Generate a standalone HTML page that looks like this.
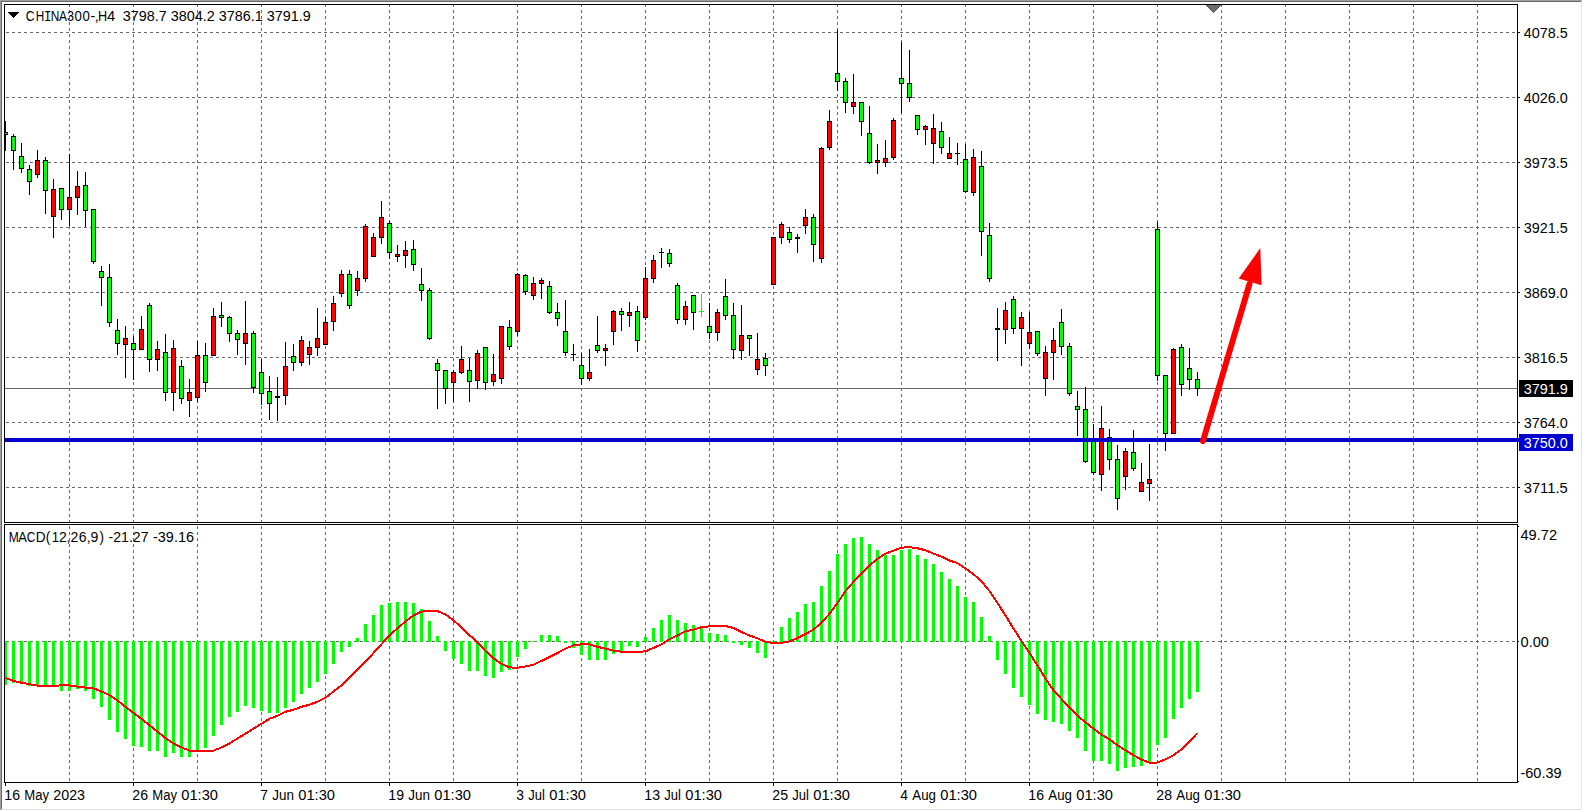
<!DOCTYPE html>
<html><head><meta charset="utf-8"><title>CHINA300-,H4</title>
<style>html,body{margin:0;padding:0;background:#fff;overflow:hidden}svg{display:block}text{font-family:"Liberation Sans",sans-serif;font-size:14px;fill:#000}</style>
</head><body>
<svg width="1583" height="811" viewBox="0 0 1583 811">
<rect x="0" y="0" width="1583" height="811" fill="#ffffff"/>
<g shape-rendering="crispEdges">
<rect x="0" y="0" width="1582" height="1" fill="#a0a0a0"/>
<rect x="0" y="0" width="1" height="810" fill="#a0a0a0"/>
<rect x="1" y="1" width="1580" height="1" fill="#696969"/>
<rect x="1" y="1" width="1" height="808" fill="#696969"/>
<rect x="1581" y="1" width="1" height="809" fill="#e3e3e3"/>
<rect x="1" y="809" width="1581" height="1" fill="#e3e3e3"/>
<clipPath id="cm"><rect x="5" y="5" width="1512" height="517"/></clipPath>
<clipPath id="cs"><rect x="5" y="525" width="1512" height="257"/></clipPath>
<line x1="6" y1="32.5" x2="1517" y2="32.5" stroke="#696969" stroke-width="1" stroke-dasharray="3 3"/>
<line x1="6" y1="97.5" x2="1517" y2="97.5" stroke="#696969" stroke-width="1" stroke-dasharray="3 3"/>
<line x1="6" y1="162.5" x2="1517" y2="162.5" stroke="#696969" stroke-width="1" stroke-dasharray="3 3"/>
<line x1="6" y1="227.5" x2="1517" y2="227.5" stroke="#696969" stroke-width="1" stroke-dasharray="3 3"/>
<line x1="6" y1="292.5" x2="1517" y2="292.5" stroke="#696969" stroke-width="1" stroke-dasharray="3 3"/>
<line x1="6" y1="357.5" x2="1517" y2="357.5" stroke="#696969" stroke-width="1" stroke-dasharray="3 3"/>
<line x1="6" y1="422.5" x2="1517" y2="422.5" stroke="#696969" stroke-width="1" stroke-dasharray="3 3"/>
<line x1="6" y1="487.5" x2="1517" y2="487.5" stroke="#696969" stroke-width="1" stroke-dasharray="3 3"/>
<line x1="6" y1="641.5" x2="1517" y2="641.5" stroke="#696969" stroke-width="1" stroke-dasharray="3 3"/>
<line x1="69.5" y1="4" x2="69.5" y2="522" stroke="#696969" stroke-width="1" stroke-dasharray="3 3"/>
<line x1="69.5" y1="520" x2="69.5" y2="782" stroke="#696969" stroke-width="1" stroke-dasharray="3 3"/>
<line x1="133.5" y1="4" x2="133.5" y2="522" stroke="#696969" stroke-width="1" stroke-dasharray="3 3"/>
<line x1="133.5" y1="520" x2="133.5" y2="782" stroke="#696969" stroke-width="1" stroke-dasharray="3 3"/>
<line x1="197.5" y1="4" x2="197.5" y2="522" stroke="#696969" stroke-width="1" stroke-dasharray="3 3"/>
<line x1="197.5" y1="520" x2="197.5" y2="782" stroke="#696969" stroke-width="1" stroke-dasharray="3 3"/>
<line x1="261.5" y1="4" x2="261.5" y2="522" stroke="#696969" stroke-width="1" stroke-dasharray="3 3"/>
<line x1="261.5" y1="520" x2="261.5" y2="782" stroke="#696969" stroke-width="1" stroke-dasharray="3 3"/>
<line x1="325.5" y1="4" x2="325.5" y2="522" stroke="#696969" stroke-width="1" stroke-dasharray="3 3"/>
<line x1="325.5" y1="520" x2="325.5" y2="782" stroke="#696969" stroke-width="1" stroke-dasharray="3 3"/>
<line x1="389.5" y1="4" x2="389.5" y2="522" stroke="#696969" stroke-width="1" stroke-dasharray="3 3"/>
<line x1="389.5" y1="520" x2="389.5" y2="782" stroke="#696969" stroke-width="1" stroke-dasharray="3 3"/>
<line x1="453.5" y1="4" x2="453.5" y2="522" stroke="#696969" stroke-width="1" stroke-dasharray="3 3"/>
<line x1="453.5" y1="520" x2="453.5" y2="782" stroke="#696969" stroke-width="1" stroke-dasharray="3 3"/>
<line x1="517.5" y1="4" x2="517.5" y2="522" stroke="#696969" stroke-width="1" stroke-dasharray="3 3"/>
<line x1="517.5" y1="520" x2="517.5" y2="782" stroke="#696969" stroke-width="1" stroke-dasharray="3 3"/>
<line x1="581.5" y1="4" x2="581.5" y2="522" stroke="#696969" stroke-width="1" stroke-dasharray="3 3"/>
<line x1="581.5" y1="520" x2="581.5" y2="782" stroke="#696969" stroke-width="1" stroke-dasharray="3 3"/>
<line x1="645.5" y1="4" x2="645.5" y2="522" stroke="#696969" stroke-width="1" stroke-dasharray="3 3"/>
<line x1="645.5" y1="520" x2="645.5" y2="782" stroke="#696969" stroke-width="1" stroke-dasharray="3 3"/>
<line x1="709.5" y1="4" x2="709.5" y2="522" stroke="#696969" stroke-width="1" stroke-dasharray="3 3"/>
<line x1="709.5" y1="520" x2="709.5" y2="782" stroke="#696969" stroke-width="1" stroke-dasharray="3 3"/>
<line x1="773.5" y1="4" x2="773.5" y2="522" stroke="#696969" stroke-width="1" stroke-dasharray="3 3"/>
<line x1="773.5" y1="520" x2="773.5" y2="782" stroke="#696969" stroke-width="1" stroke-dasharray="3 3"/>
<line x1="837.5" y1="4" x2="837.5" y2="522" stroke="#696969" stroke-width="1" stroke-dasharray="3 3"/>
<line x1="837.5" y1="520" x2="837.5" y2="782" stroke="#696969" stroke-width="1" stroke-dasharray="3 3"/>
<line x1="901.5" y1="4" x2="901.5" y2="522" stroke="#696969" stroke-width="1" stroke-dasharray="3 3"/>
<line x1="901.5" y1="520" x2="901.5" y2="782" stroke="#696969" stroke-width="1" stroke-dasharray="3 3"/>
<line x1="965.5" y1="4" x2="965.5" y2="522" stroke="#696969" stroke-width="1" stroke-dasharray="3 3"/>
<line x1="965.5" y1="520" x2="965.5" y2="782" stroke="#696969" stroke-width="1" stroke-dasharray="3 3"/>
<line x1="1029.5" y1="4" x2="1029.5" y2="522" stroke="#696969" stroke-width="1" stroke-dasharray="3 3"/>
<line x1="1029.5" y1="520" x2="1029.5" y2="782" stroke="#696969" stroke-width="1" stroke-dasharray="3 3"/>
<line x1="1093.5" y1="4" x2="1093.5" y2="522" stroke="#696969" stroke-width="1" stroke-dasharray="3 3"/>
<line x1="1093.5" y1="520" x2="1093.5" y2="782" stroke="#696969" stroke-width="1" stroke-dasharray="3 3"/>
<line x1="1157.5" y1="4" x2="1157.5" y2="522" stroke="#696969" stroke-width="1" stroke-dasharray="3 3"/>
<line x1="1157.5" y1="520" x2="1157.5" y2="782" stroke="#696969" stroke-width="1" stroke-dasharray="3 3"/>
<line x1="1221.5" y1="4" x2="1221.5" y2="522" stroke="#696969" stroke-width="1" stroke-dasharray="3 3"/>
<line x1="1221.5" y1="520" x2="1221.5" y2="782" stroke="#696969" stroke-width="1" stroke-dasharray="3 3"/>
<line x1="1285.5" y1="4" x2="1285.5" y2="522" stroke="#696969" stroke-width="1" stroke-dasharray="3 3"/>
<line x1="1285.5" y1="520" x2="1285.5" y2="782" stroke="#696969" stroke-width="1" stroke-dasharray="3 3"/>
<line x1="1349.5" y1="4" x2="1349.5" y2="522" stroke="#696969" stroke-width="1" stroke-dasharray="3 3"/>
<line x1="1349.5" y1="520" x2="1349.5" y2="782" stroke="#696969" stroke-width="1" stroke-dasharray="3 3"/>
<line x1="1413.5" y1="4" x2="1413.5" y2="522" stroke="#696969" stroke-width="1" stroke-dasharray="3 3"/>
<line x1="1413.5" y1="520" x2="1413.5" y2="782" stroke="#696969" stroke-width="1" stroke-dasharray="3 3"/>
<line x1="1477.5" y1="4" x2="1477.5" y2="522" stroke="#696969" stroke-width="1" stroke-dasharray="3 3"/>
<line x1="1477.5" y1="520" x2="1477.5" y2="782" stroke="#696969" stroke-width="1" stroke-dasharray="3 3"/>
<rect x="5" y="388" width="1512" height="1" fill="#696969"/>
<g clip-path="url(#cm)">
<rect x="5" y="121" width="1" height="30" fill="#000"/>
<rect x="3" y="132" width="5" height="3" fill="#000"/>
<rect x="4" y="133" width="3" height="1" fill="#00ff00"/>
<rect x="13" y="134" width="1" height="36" fill="#000"/>
<rect x="11" y="136" width="5" height="15" fill="#000"/>
<rect x="12" y="137" width="3" height="13" fill="#00ff00"/>
<rect x="21" y="143" width="1" height="30" fill="#000"/>
<rect x="19" y="156" width="5" height="13" fill="#000"/>
<rect x="20" y="157" width="3" height="11" fill="#00ff00"/>
<rect x="29" y="165" width="1" height="30" fill="#000"/>
<rect x="27" y="169" width="5" height="13" fill="#000"/>
<rect x="28" y="170" width="3" height="11" fill="#00ff00"/>
<rect x="37" y="150" width="1" height="28" fill="#000"/>
<rect x="35" y="160" width="5" height="15" fill="#000"/>
<rect x="36" y="161" width="3" height="13" fill="#ff0000"/>
<rect x="45" y="157" width="1" height="57" fill="#000"/>
<rect x="43" y="160" width="5" height="31" fill="#000"/>
<rect x="44" y="161" width="3" height="29" fill="#00ff00"/>
<rect x="53" y="179" width="1" height="59" fill="#000"/>
<rect x="51" y="189" width="5" height="28" fill="#000"/>
<rect x="52" y="190" width="3" height="26" fill="#ff0000"/>
<rect x="61" y="188" width="1" height="32" fill="#000"/>
<rect x="59" y="188" width="5" height="22" fill="#000"/>
<rect x="60" y="189" width="3" height="20" fill="#00ff00"/>
<rect x="69" y="154" width="1" height="72" fill="#000"/>
<rect x="67" y="197" width="5" height="13" fill="#000"/>
<rect x="68" y="198" width="3" height="11" fill="#ff0000"/>
<rect x="77" y="171" width="1" height="44" fill="#000"/>
<rect x="75" y="186" width="5" height="12" fill="#000"/>
<rect x="76" y="187" width="3" height="10" fill="#ff0000"/>
<rect x="85" y="172" width="1" height="55" fill="#000"/>
<rect x="83" y="185" width="5" height="26" fill="#000"/>
<rect x="84" y="186" width="3" height="24" fill="#00ff00"/>
<rect x="93" y="209" width="1" height="55" fill="#000"/>
<rect x="91" y="209" width="5" height="53" fill="#000"/>
<rect x="92" y="210" width="3" height="51" fill="#00ff00"/>
<rect x="101" y="266" width="1" height="40" fill="#000"/>
<rect x="99" y="271" width="5" height="7" fill="#000"/>
<rect x="100" y="272" width="3" height="5" fill="#00ff00"/>
<rect x="109" y="264" width="1" height="63" fill="#000"/>
<rect x="107" y="277" width="5" height="46" fill="#000"/>
<rect x="108" y="278" width="3" height="44" fill="#00ff00"/>
<rect x="117" y="319" width="1" height="36" fill="#000"/>
<rect x="115" y="330" width="5" height="14" fill="#000"/>
<rect x="116" y="331" width="3" height="12" fill="#00ff00"/>
<rect x="125" y="326" width="1" height="52" fill="#000"/>
<rect x="123" y="338" width="5" height="7" fill="#000"/>
<rect x="124" y="339" width="3" height="5" fill="#ff0000"/>
<rect x="133" y="336" width="1" height="44" fill="#000"/>
<rect x="131" y="343" width="5" height="7" fill="#000"/>
<rect x="132" y="344" width="3" height="5" fill="#00ff00"/>
<rect x="141" y="316" width="1" height="34" fill="#000"/>
<rect x="139" y="329" width="5" height="21" fill="#000"/>
<rect x="140" y="330" width="3" height="19" fill="#ff0000"/>
<rect x="149" y="303" width="1" height="69" fill="#000"/>
<rect x="147" y="305" width="5" height="55" fill="#000"/>
<rect x="148" y="306" width="3" height="53" fill="#00ff00"/>
<rect x="157" y="341" width="1" height="30" fill="#000"/>
<rect x="155" y="349" width="5" height="11" fill="#000"/>
<rect x="156" y="350" width="3" height="9" fill="#ff0000"/>
<rect x="165" y="334" width="1" height="67" fill="#000"/>
<rect x="163" y="352" width="5" height="41" fill="#000"/>
<rect x="164" y="353" width="3" height="39" fill="#00ff00"/>
<rect x="173" y="340" width="1" height="71" fill="#000"/>
<rect x="171" y="348" width="5" height="45" fill="#000"/>
<rect x="172" y="349" width="3" height="43" fill="#ff0000"/>
<rect x="181" y="360" width="1" height="44" fill="#000"/>
<rect x="179" y="366" width="5" height="33" fill="#000"/>
<rect x="180" y="367" width="3" height="31" fill="#00ff00"/>
<rect x="189" y="379" width="1" height="38" fill="#000"/>
<rect x="187" y="392" width="5" height="9" fill="#000"/>
<rect x="188" y="393" width="3" height="7" fill="#ff0000"/>
<rect x="197" y="341" width="1" height="61" fill="#000"/>
<rect x="195" y="355" width="5" height="43" fill="#000"/>
<rect x="196" y="356" width="3" height="41" fill="#ff0000"/>
<rect x="205" y="343" width="1" height="49" fill="#000"/>
<rect x="203" y="355" width="5" height="28" fill="#000"/>
<rect x="204" y="356" width="3" height="26" fill="#00ff00"/>
<rect x="213" y="308" width="1" height="48" fill="#000"/>
<rect x="211" y="316" width="5" height="40" fill="#000"/>
<rect x="212" y="317" width="3" height="38" fill="#ff0000"/>
<rect x="221" y="302" width="1" height="25" fill="#000"/>
<rect x="219" y="315" width="5" height="3" fill="#000"/>
<rect x="220" y="316" width="3" height="1" fill="#00ff00"/>
<rect x="229" y="316" width="1" height="26" fill="#000"/>
<rect x="227" y="317" width="5" height="17" fill="#000"/>
<rect x="228" y="318" width="3" height="15" fill="#00ff00"/>
<rect x="237" y="330" width="1" height="25" fill="#000"/>
<rect x="235" y="333" width="5" height="7" fill="#000"/>
<rect x="236" y="334" width="3" height="5" fill="#00ff00"/>
<rect x="245" y="301" width="1" height="64" fill="#000"/>
<rect x="243" y="333" width="5" height="11" fill="#000"/>
<rect x="244" y="334" width="3" height="9" fill="#ff0000"/>
<rect x="253" y="331" width="1" height="62" fill="#000"/>
<rect x="251" y="333" width="5" height="55" fill="#000"/>
<rect x="252" y="334" width="3" height="53" fill="#00ff00"/>
<rect x="261" y="359" width="1" height="46" fill="#000"/>
<rect x="259" y="372" width="5" height="22" fill="#000"/>
<rect x="260" y="373" width="3" height="20" fill="#00ff00"/>
<rect x="269" y="376" width="1" height="44" fill="#000"/>
<rect x="267" y="391" width="5" height="13" fill="#000"/>
<rect x="268" y="392" width="3" height="11" fill="#00ff00"/>
<rect x="277" y="377" width="1" height="44" fill="#000"/>
<rect x="275" y="396" width="5" height="2" fill="#000"/>
<rect x="285" y="342" width="1" height="63" fill="#000"/>
<rect x="283" y="366" width="5" height="30" fill="#000"/>
<rect x="284" y="367" width="3" height="28" fill="#ff0000"/>
<rect x="293" y="344" width="1" height="27" fill="#000"/>
<rect x="291" y="356" width="5" height="7" fill="#000"/>
<rect x="292" y="357" width="3" height="5" fill="#00ff00"/>
<rect x="301" y="336" width="1" height="30" fill="#000"/>
<rect x="299" y="340" width="5" height="23" fill="#000"/>
<rect x="300" y="341" width="3" height="21" fill="#ff0000"/>
<rect x="309" y="341" width="1" height="24" fill="#000"/>
<rect x="307" y="347" width="5" height="8" fill="#000"/>
<rect x="308" y="348" width="3" height="6" fill="#ff0000"/>
<rect x="317" y="308" width="1" height="48" fill="#000"/>
<rect x="315" y="338" width="5" height="10" fill="#000"/>
<rect x="316" y="339" width="3" height="8" fill="#ff0000"/>
<rect x="325" y="317" width="1" height="28" fill="#000"/>
<rect x="323" y="322" width="5" height="23" fill="#000"/>
<rect x="324" y="323" width="3" height="21" fill="#ff0000"/>
<rect x="333" y="296" width="1" height="35" fill="#000"/>
<rect x="331" y="303" width="5" height="19" fill="#000"/>
<rect x="332" y="304" width="3" height="17" fill="#ff0000"/>
<rect x="341" y="270" width="1" height="27" fill="#000"/>
<rect x="339" y="274" width="5" height="20" fill="#000"/>
<rect x="340" y="275" width="3" height="18" fill="#ff0000"/>
<rect x="349" y="270" width="1" height="39" fill="#000"/>
<rect x="347" y="274" width="5" height="32" fill="#000"/>
<rect x="348" y="275" width="3" height="30" fill="#00ff00"/>
<rect x="357" y="271" width="1" height="25" fill="#000"/>
<rect x="355" y="278" width="5" height="13" fill="#000"/>
<rect x="356" y="279" width="3" height="11" fill="#ff0000"/>
<rect x="365" y="224" width="1" height="58" fill="#000"/>
<rect x="363" y="226" width="5" height="53" fill="#000"/>
<rect x="364" y="227" width="3" height="51" fill="#ff0000"/>
<rect x="373" y="233" width="1" height="24" fill="#000"/>
<rect x="371" y="237" width="5" height="20" fill="#000"/>
<rect x="372" y="238" width="3" height="18" fill="#ff0000"/>
<rect x="381" y="201" width="1" height="43" fill="#000"/>
<rect x="379" y="217" width="5" height="21" fill="#000"/>
<rect x="380" y="218" width="3" height="19" fill="#ff0000"/>
<rect x="389" y="221" width="1" height="38" fill="#000"/>
<rect x="387" y="223" width="5" height="30" fill="#000"/>
<rect x="388" y="224" width="3" height="28" fill="#00ff00"/>
<rect x="397" y="245" width="1" height="17" fill="#000"/>
<rect x="395" y="254" width="5" height="3" fill="#000"/>
<rect x="396" y="255" width="3" height="1" fill="#ff0000"/>
<rect x="405" y="241" width="1" height="27" fill="#000"/>
<rect x="403" y="250" width="5" height="6" fill="#000"/>
<rect x="404" y="251" width="3" height="4" fill="#ff0000"/>
<rect x="413" y="240" width="1" height="31" fill="#000"/>
<rect x="411" y="249" width="5" height="16" fill="#000"/>
<rect x="412" y="250" width="3" height="14" fill="#00ff00"/>
<rect x="421" y="268" width="1" height="33" fill="#000"/>
<rect x="419" y="284" width="5" height="7" fill="#000"/>
<rect x="420" y="285" width="3" height="5" fill="#00ff00"/>
<rect x="429" y="288" width="1" height="52" fill="#000"/>
<rect x="427" y="290" width="5" height="49" fill="#000"/>
<rect x="428" y="291" width="3" height="47" fill="#00ff00"/>
<rect x="437" y="359" width="1" height="50" fill="#000"/>
<rect x="435" y="363" width="5" height="8" fill="#000"/>
<rect x="436" y="364" width="3" height="6" fill="#00ff00"/>
<rect x="445" y="370" width="1" height="34" fill="#000"/>
<rect x="443" y="370" width="5" height="19" fill="#000"/>
<rect x="444" y="371" width="3" height="17" fill="#00ff00"/>
<rect x="453" y="370" width="1" height="32" fill="#000"/>
<rect x="451" y="372" width="5" height="11" fill="#000"/>
<rect x="452" y="373" width="3" height="9" fill="#ff0000"/>
<rect x="461" y="346" width="1" height="28" fill="#000"/>
<rect x="459" y="359" width="5" height="14" fill="#000"/>
<rect x="460" y="360" width="3" height="12" fill="#ff0000"/>
<rect x="469" y="358" width="1" height="44" fill="#000"/>
<rect x="467" y="370" width="5" height="12" fill="#000"/>
<rect x="468" y="371" width="3" height="10" fill="#00ff00"/>
<rect x="477" y="350" width="1" height="39" fill="#000"/>
<rect x="475" y="353" width="5" height="28" fill="#000"/>
<rect x="476" y="354" width="3" height="26" fill="#ff0000"/>
<rect x="485" y="347" width="1" height="43" fill="#000"/>
<rect x="483" y="347" width="5" height="36" fill="#000"/>
<rect x="484" y="348" width="3" height="34" fill="#00ff00"/>
<rect x="493" y="354" width="1" height="32" fill="#000"/>
<rect x="491" y="374" width="5" height="8" fill="#000"/>
<rect x="492" y="375" width="3" height="6" fill="#ff0000"/>
<rect x="501" y="326" width="1" height="58" fill="#000"/>
<rect x="499" y="326" width="5" height="53" fill="#000"/>
<rect x="500" y="327" width="3" height="51" fill="#ff0000"/>
<rect x="509" y="320" width="1" height="30" fill="#000"/>
<rect x="507" y="327" width="5" height="20" fill="#000"/>
<rect x="508" y="328" width="3" height="18" fill="#00ff00"/>
<rect x="517" y="273" width="1" height="63" fill="#000"/>
<rect x="515" y="274" width="5" height="58" fill="#000"/>
<rect x="516" y="275" width="3" height="56" fill="#ff0000"/>
<rect x="525" y="274" width="1" height="21" fill="#000"/>
<rect x="523" y="275" width="5" height="17" fill="#000"/>
<rect x="524" y="276" width="3" height="15" fill="#00ff00"/>
<rect x="533" y="277" width="1" height="23" fill="#000"/>
<rect x="531" y="283" width="5" height="13" fill="#000"/>
<rect x="532" y="284" width="3" height="11" fill="#ff0000"/>
<rect x="541" y="278" width="1" height="21" fill="#000"/>
<rect x="539" y="280" width="5" height="4" fill="#000"/>
<rect x="540" y="281" width="3" height="2" fill="#ff0000"/>
<rect x="549" y="281" width="1" height="33" fill="#000"/>
<rect x="547" y="286" width="5" height="27" fill="#000"/>
<rect x="548" y="287" width="3" height="25" fill="#00ff00"/>
<rect x="557" y="303" width="1" height="23" fill="#000"/>
<rect x="555" y="312" width="5" height="7" fill="#000"/>
<rect x="556" y="313" width="3" height="5" fill="#00ff00"/>
<rect x="565" y="300" width="1" height="56" fill="#000"/>
<rect x="563" y="331" width="5" height="22" fill="#000"/>
<rect x="564" y="332" width="3" height="20" fill="#00ff00"/>
<rect x="573" y="344" width="1" height="17" fill="#000"/>
<rect x="571" y="354" width="5" height="1" fill="#000"/>
<rect x="581" y="353" width="1" height="32" fill="#000"/>
<rect x="579" y="365" width="5" height="14" fill="#000"/>
<rect x="580" y="366" width="3" height="12" fill="#00ff00"/>
<rect x="589" y="349" width="1" height="32" fill="#000"/>
<rect x="587" y="372" width="5" height="7" fill="#000"/>
<rect x="588" y="373" width="3" height="5" fill="#ff0000"/>
<rect x="597" y="316" width="1" height="37" fill="#000"/>
<rect x="595" y="345" width="5" height="6" fill="#000"/>
<rect x="596" y="346" width="3" height="4" fill="#00ff00"/>
<rect x="605" y="344" width="1" height="22" fill="#000"/>
<rect x="603" y="348" width="5" height="3" fill="#000"/>
<rect x="604" y="349" width="3" height="1" fill="#ff0000"/>
<rect x="613" y="310" width="1" height="35" fill="#000"/>
<rect x="611" y="311" width="5" height="21" fill="#000"/>
<rect x="612" y="312" width="3" height="19" fill="#ff0000"/>
<rect x="621" y="308" width="1" height="23" fill="#000"/>
<rect x="619" y="311" width="5" height="4" fill="#000"/>
<rect x="620" y="312" width="3" height="2" fill="#00ff00"/>
<rect x="629" y="302" width="1" height="25" fill="#000"/>
<rect x="627" y="312" width="5" height="4" fill="#000"/>
<rect x="628" y="313" width="3" height="2" fill="#ff0000"/>
<rect x="637" y="306" width="1" height="46" fill="#000"/>
<rect x="635" y="311" width="5" height="30" fill="#000"/>
<rect x="636" y="312" width="3" height="28" fill="#00ff00"/>
<rect x="645" y="267" width="1" height="53" fill="#000"/>
<rect x="643" y="278" width="5" height="40" fill="#000"/>
<rect x="644" y="279" width="3" height="38" fill="#ff0000"/>
<rect x="653" y="255" width="1" height="28" fill="#000"/>
<rect x="651" y="260" width="5" height="19" fill="#000"/>
<rect x="652" y="261" width="3" height="17" fill="#ff0000"/>
<rect x="661" y="248" width="1" height="20" fill="#000"/>
<rect x="659" y="252" width="5" height="1" fill="#000"/>
<rect x="669" y="249" width="1" height="18" fill="#000"/>
<rect x="667" y="253" width="5" height="11" fill="#000"/>
<rect x="668" y="254" width="3" height="9" fill="#00ff00"/>
<rect x="677" y="283" width="1" height="41" fill="#000"/>
<rect x="675" y="285" width="5" height="35" fill="#000"/>
<rect x="676" y="286" width="3" height="33" fill="#00ff00"/>
<rect x="685" y="301" width="1" height="24" fill="#000"/>
<rect x="683" y="306" width="5" height="14" fill="#000"/>
<rect x="684" y="307" width="3" height="12" fill="#ff0000"/>
<rect x="693" y="295" width="1" height="35" fill="#000"/>
<rect x="691" y="295" width="5" height="18" fill="#000"/>
<rect x="692" y="296" width="3" height="16" fill="#00ff00"/>
<rect x="701" y="294" width="1" height="23" fill="#00ff00"/>
<rect x="699" y="311" width="5" height="1" fill="#00ff00"/>
<rect x="709" y="303" width="1" height="36" fill="#000"/>
<rect x="707" y="326" width="5" height="7" fill="#000"/>
<rect x="708" y="327" width="3" height="5" fill="#00ff00"/>
<rect x="717" y="309" width="1" height="32" fill="#000"/>
<rect x="715" y="312" width="5" height="21" fill="#000"/>
<rect x="716" y="313" width="3" height="19" fill="#ff0000"/>
<rect x="725" y="279" width="1" height="41" fill="#000"/>
<rect x="723" y="296" width="5" height="20" fill="#000"/>
<rect x="724" y="297" width="3" height="18" fill="#00ff00"/>
<rect x="733" y="303" width="1" height="56" fill="#000"/>
<rect x="731" y="315" width="5" height="35" fill="#000"/>
<rect x="732" y="316" width="3" height="33" fill="#00ff00"/>
<rect x="741" y="305" width="1" height="55" fill="#000"/>
<rect x="739" y="335" width="5" height="16" fill="#000"/>
<rect x="740" y="336" width="3" height="14" fill="#ff0000"/>
<rect x="749" y="335" width="1" height="21" fill="#000"/>
<rect x="747" y="335" width="5" height="4" fill="#000"/>
<rect x="748" y="336" width="3" height="2" fill="#00ff00"/>
<rect x="757" y="333" width="1" height="42" fill="#000"/>
<rect x="755" y="359" width="5" height="11" fill="#000"/>
<rect x="756" y="360" width="3" height="9" fill="#ff0000"/>
<rect x="765" y="353" width="1" height="23" fill="#000"/>
<rect x="763" y="358" width="5" height="8" fill="#000"/>
<rect x="764" y="359" width="3" height="6" fill="#00ff00"/>
<rect x="773" y="237" width="1" height="48" fill="#000"/>
<rect x="771" y="237" width="5" height="48" fill="#000"/>
<rect x="772" y="238" width="3" height="46" fill="#ff0000"/>
<rect x="781" y="222" width="1" height="22" fill="#000"/>
<rect x="779" y="224" width="5" height="14" fill="#000"/>
<rect x="780" y="225" width="3" height="12" fill="#ff0000"/>
<rect x="789" y="227" width="1" height="16" fill="#000"/>
<rect x="787" y="232" width="5" height="8" fill="#000"/>
<rect x="788" y="233" width="3" height="6" fill="#00ff00"/>
<rect x="797" y="234" width="1" height="19" fill="#000"/>
<rect x="795" y="237" width="5" height="2" fill="#000"/>
<rect x="805" y="209" width="1" height="25" fill="#000"/>
<rect x="803" y="217" width="5" height="9" fill="#000"/>
<rect x="804" y="218" width="3" height="7" fill="#ff0000"/>
<rect x="813" y="214" width="1" height="48" fill="#000"/>
<rect x="811" y="217" width="5" height="28" fill="#000"/>
<rect x="812" y="218" width="3" height="26" fill="#00ff00"/>
<rect x="821" y="147" width="1" height="116" fill="#000"/>
<rect x="819" y="148" width="5" height="111" fill="#000"/>
<rect x="820" y="149" width="3" height="109" fill="#ff0000"/>
<rect x="829" y="110" width="1" height="40" fill="#000"/>
<rect x="827" y="121" width="5" height="27" fill="#000"/>
<rect x="828" y="122" width="3" height="25" fill="#ff0000"/>
<rect x="837" y="30" width="1" height="61" fill="#000"/>
<rect x="835" y="73" width="5" height="9" fill="#000"/>
<rect x="836" y="74" width="3" height="7" fill="#00ff00"/>
<rect x="845" y="78" width="1" height="35" fill="#000"/>
<rect x="843" y="81" width="5" height="22" fill="#000"/>
<rect x="844" y="82" width="3" height="20" fill="#00ff00"/>
<rect x="853" y="74" width="1" height="40" fill="#000"/>
<rect x="851" y="102" width="5" height="5" fill="#000"/>
<rect x="852" y="103" width="3" height="3" fill="#ff0000"/>
<rect x="861" y="102" width="1" height="34" fill="#000"/>
<rect x="859" y="102" width="5" height="20" fill="#000"/>
<rect x="860" y="103" width="3" height="18" fill="#00ff00"/>
<rect x="869" y="106" width="1" height="58" fill="#000"/>
<rect x="867" y="133" width="5" height="30" fill="#000"/>
<rect x="868" y="134" width="3" height="28" fill="#00ff00"/>
<rect x="877" y="144" width="1" height="30" fill="#000"/>
<rect x="875" y="160" width="5" height="3" fill="#000"/>
<rect x="876" y="161" width="3" height="1" fill="#ff0000"/>
<rect x="885" y="140" width="1" height="27" fill="#000"/>
<rect x="883" y="158" width="5" height="5" fill="#000"/>
<rect x="884" y="159" width="3" height="3" fill="#ff0000"/>
<rect x="893" y="118" width="1" height="42" fill="#000"/>
<rect x="891" y="120" width="5" height="38" fill="#000"/>
<rect x="892" y="121" width="3" height="36" fill="#ff0000"/>
<rect x="901" y="42" width="1" height="71" fill="#000"/>
<rect x="899" y="78" width="5" height="6" fill="#000"/>
<rect x="900" y="79" width="3" height="4" fill="#00ff00"/>
<rect x="909" y="50" width="1" height="52" fill="#000"/>
<rect x="907" y="83" width="5" height="15" fill="#000"/>
<rect x="908" y="84" width="3" height="13" fill="#00ff00"/>
<rect x="917" y="115" width="1" height="20" fill="#000"/>
<rect x="915" y="115" width="5" height="15" fill="#000"/>
<rect x="916" y="116" width="3" height="13" fill="#00ff00"/>
<rect x="925" y="125" width="1" height="20" fill="#000"/>
<rect x="923" y="126" width="5" height="4" fill="#000"/>
<rect x="924" y="127" width="3" height="2" fill="#ff0000"/>
<rect x="933" y="114" width="1" height="50" fill="#000"/>
<rect x="931" y="128" width="5" height="16" fill="#000"/>
<rect x="932" y="129" width="3" height="14" fill="#ff0000"/>
<rect x="941" y="122" width="1" height="32" fill="#000"/>
<rect x="939" y="131" width="5" height="17" fill="#000"/>
<rect x="940" y="132" width="3" height="15" fill="#00ff00"/>
<rect x="949" y="137" width="1" height="22" fill="#000"/>
<rect x="947" y="153" width="5" height="6" fill="#000"/>
<rect x="948" y="154" width="3" height="4" fill="#ff0000"/>
<rect x="957" y="143" width="1" height="22" fill="#000"/>
<rect x="955" y="153" width="5" height="1" fill="#000"/>
<rect x="965" y="144" width="1" height="49" fill="#000"/>
<rect x="963" y="159" width="5" height="33" fill="#000"/>
<rect x="964" y="160" width="3" height="31" fill="#00ff00"/>
<rect x="973" y="149" width="1" height="47" fill="#000"/>
<rect x="971" y="157" width="5" height="36" fill="#000"/>
<rect x="972" y="158" width="3" height="34" fill="#ff0000"/>
<rect x="981" y="151" width="1" height="105" fill="#000"/>
<rect x="979" y="166" width="5" height="66" fill="#000"/>
<rect x="980" y="167" width="3" height="64" fill="#00ff00"/>
<rect x="989" y="223" width="1" height="59" fill="#000"/>
<rect x="987" y="235" width="5" height="44" fill="#000"/>
<rect x="988" y="236" width="3" height="42" fill="#00ff00"/>
<rect x="997" y="308" width="1" height="53" fill="#000"/>
<rect x="995" y="328" width="5" height="2" fill="#000"/>
<rect x="1005" y="302" width="1" height="42" fill="#000"/>
<rect x="1003" y="310" width="5" height="20" fill="#000"/>
<rect x="1004" y="311" width="3" height="18" fill="#ff0000"/>
<rect x="1013" y="296" width="1" height="38" fill="#000"/>
<rect x="1011" y="299" width="5" height="30" fill="#000"/>
<rect x="1012" y="300" width="3" height="28" fill="#00ff00"/>
<rect x="1021" y="312" width="1" height="54" fill="#000"/>
<rect x="1019" y="317" width="5" height="12" fill="#000"/>
<rect x="1020" y="318" width="3" height="10" fill="#ff0000"/>
<rect x="1029" y="312" width="1" height="37" fill="#000"/>
<rect x="1027" y="332" width="5" height="12" fill="#000"/>
<rect x="1028" y="333" width="3" height="10" fill="#ff0000"/>
<rect x="1037" y="331" width="1" height="25" fill="#000"/>
<rect x="1035" y="331" width="5" height="23" fill="#000"/>
<rect x="1036" y="332" width="3" height="21" fill="#00ff00"/>
<rect x="1045" y="346" width="1" height="50" fill="#000"/>
<rect x="1043" y="352" width="5" height="27" fill="#000"/>
<rect x="1044" y="353" width="3" height="25" fill="#ff0000"/>
<rect x="1053" y="328" width="1" height="52" fill="#000"/>
<rect x="1051" y="340" width="5" height="13" fill="#000"/>
<rect x="1052" y="341" width="3" height="11" fill="#ff0000"/>
<rect x="1061" y="309" width="1" height="46" fill="#000"/>
<rect x="1059" y="322" width="5" height="25" fill="#000"/>
<rect x="1060" y="323" width="3" height="23" fill="#00ff00"/>
<rect x="1069" y="343" width="1" height="53" fill="#000"/>
<rect x="1067" y="346" width="5" height="48" fill="#000"/>
<rect x="1068" y="347" width="3" height="46" fill="#00ff00"/>
<rect x="1077" y="391" width="1" height="45" fill="#000"/>
<rect x="1075" y="406" width="5" height="4" fill="#000"/>
<rect x="1076" y="407" width="3" height="2" fill="#00ff00"/>
<rect x="1085" y="387" width="1" height="76" fill="#000"/>
<rect x="1083" y="409" width="5" height="53" fill="#000"/>
<rect x="1084" y="410" width="3" height="51" fill="#00ff00"/>
<rect x="1093" y="424" width="1" height="51" fill="#000"/>
<rect x="1091" y="439" width="5" height="34" fill="#000"/>
<rect x="1092" y="440" width="3" height="32" fill="#00ff00"/>
<rect x="1101" y="406" width="1" height="85" fill="#000"/>
<rect x="1099" y="428" width="5" height="47" fill="#000"/>
<rect x="1100" y="429" width="3" height="45" fill="#ff0000"/>
<rect x="1109" y="429" width="1" height="41" fill="#000"/>
<rect x="1107" y="437" width="5" height="23" fill="#000"/>
<rect x="1108" y="438" width="3" height="21" fill="#00ff00"/>
<rect x="1117" y="445" width="1" height="65" fill="#000"/>
<rect x="1115" y="459" width="5" height="40" fill="#000"/>
<rect x="1116" y="460" width="3" height="38" fill="#00ff00"/>
<rect x="1125" y="448" width="1" height="42" fill="#000"/>
<rect x="1123" y="451" width="5" height="26" fill="#000"/>
<rect x="1124" y="452" width="3" height="24" fill="#ff0000"/>
<rect x="1133" y="430" width="1" height="41" fill="#000"/>
<rect x="1131" y="452" width="5" height="17" fill="#000"/>
<rect x="1132" y="453" width="3" height="15" fill="#00ff00"/>
<rect x="1141" y="463" width="1" height="29" fill="#000"/>
<rect x="1139" y="482" width="5" height="10" fill="#000"/>
<rect x="1140" y="483" width="3" height="8" fill="#ff0000"/>
<rect x="1149" y="444" width="1" height="57" fill="#000"/>
<rect x="1147" y="479" width="5" height="5" fill="#000"/>
<rect x="1148" y="480" width="3" height="3" fill="#ff0000"/>
<rect x="1157" y="222" width="1" height="159" fill="#000"/>
<rect x="1155" y="229" width="5" height="147" fill="#000"/>
<rect x="1156" y="230" width="3" height="145" fill="#00ff00"/>
<rect x="1165" y="375" width="1" height="76" fill="#000"/>
<rect x="1163" y="375" width="5" height="59" fill="#000"/>
<rect x="1164" y="376" width="3" height="57" fill="#00ff00"/>
<rect x="1173" y="348" width="1" height="86" fill="#000"/>
<rect x="1171" y="349" width="5" height="85" fill="#000"/>
<rect x="1172" y="350" width="3" height="83" fill="#ff0000"/>
<rect x="1181" y="344" width="1" height="52" fill="#000"/>
<rect x="1179" y="347" width="5" height="38" fill="#000"/>
<rect x="1180" y="348" width="3" height="36" fill="#00ff00"/>
<rect x="1189" y="348" width="1" height="42" fill="#000"/>
<rect x="1187" y="368" width="5" height="12" fill="#000"/>
<rect x="1188" y="369" width="3" height="10" fill="#00ff00"/>
<rect x="1197" y="372" width="1" height="24" fill="#000"/>
<rect x="1195" y="379" width="5" height="10" fill="#000"/>
<rect x="1196" y="380" width="3" height="8" fill="#00ff00"/>
</g>
<g clip-path="url(#cs)">
<rect x="4" y="641" width="3" height="44" fill="#00ff00"/>
<rect x="12" y="641" width="3" height="42" fill="#00ff00"/>
<rect x="20" y="641" width="3" height="43" fill="#00ff00"/>
<rect x="28" y="641" width="3" height="45" fill="#00ff00"/>
<rect x="36" y="641" width="3" height="45" fill="#00ff00"/>
<rect x="44" y="641" width="3" height="45" fill="#00ff00"/>
<rect x="52" y="641" width="3" height="45" fill="#00ff00"/>
<rect x="60" y="641" width="3" height="50" fill="#00ff00"/>
<rect x="68" y="641" width="3" height="50" fill="#00ff00"/>
<rect x="76" y="641" width="3" height="48" fill="#00ff00"/>
<rect x="84" y="641" width="3" height="50" fill="#00ff00"/>
<rect x="92" y="641" width="3" height="58" fill="#00ff00"/>
<rect x="100" y="641" width="3" height="66" fill="#00ff00"/>
<rect x="108" y="641" width="3" height="79" fill="#00ff00"/>
<rect x="116" y="641" width="3" height="91" fill="#00ff00"/>
<rect x="124" y="641" width="3" height="98" fill="#00ff00"/>
<rect x="132" y="641" width="3" height="105" fill="#00ff00"/>
<rect x="140" y="641" width="3" height="106" fill="#00ff00"/>
<rect x="148" y="641" width="3" height="110" fill="#00ff00"/>
<rect x="156" y="641" width="3" height="110" fill="#00ff00"/>
<rect x="164" y="641" width="3" height="116" fill="#00ff00"/>
<rect x="172" y="641" width="3" height="112" fill="#00ff00"/>
<rect x="180" y="641" width="3" height="116" fill="#00ff00"/>
<rect x="188" y="641" width="3" height="116" fill="#00ff00"/>
<rect x="196" y="641" width="3" height="110" fill="#00ff00"/>
<rect x="204" y="641" width="3" height="107" fill="#00ff00"/>
<rect x="212" y="641" width="3" height="95" fill="#00ff00"/>
<rect x="220" y="641" width="3" height="84" fill="#00ff00"/>
<rect x="228" y="641" width="3" height="76" fill="#00ff00"/>
<rect x="236" y="641" width="3" height="71" fill="#00ff00"/>
<rect x="244" y="641" width="3" height="65" fill="#00ff00"/>
<rect x="252" y="641" width="3" height="67" fill="#00ff00"/>
<rect x="260" y="641" width="3" height="70" fill="#00ff00"/>
<rect x="268" y="641" width="3" height="72" fill="#00ff00"/>
<rect x="276" y="641" width="3" height="72" fill="#00ff00"/>
<rect x="284" y="641" width="3" height="67" fill="#00ff00"/>
<rect x="292" y="641" width="3" height="61" fill="#00ff00"/>
<rect x="300" y="641" width="3" height="53" fill="#00ff00"/>
<rect x="308" y="641" width="3" height="47" fill="#00ff00"/>
<rect x="316" y="641" width="3" height="41" fill="#00ff00"/>
<rect x="324" y="641" width="3" height="33" fill="#00ff00"/>
<rect x="332" y="641" width="3" height="23" fill="#00ff00"/>
<rect x="340" y="641" width="3" height="11" fill="#00ff00"/>
<rect x="348" y="641" width="3" height="6" fill="#00ff00"/>
<rect x="356" y="638" width="3" height="4" fill="#00ff00"/>
<rect x="364" y="624" width="3" height="18" fill="#00ff00"/>
<rect x="372" y="615" width="3" height="27" fill="#00ff00"/>
<rect x="380" y="605" width="3" height="37" fill="#00ff00"/>
<rect x="388" y="603" width="3" height="39" fill="#00ff00"/>
<rect x="396" y="602" width="3" height="40" fill="#00ff00"/>
<rect x="404" y="602" width="3" height="40" fill="#00ff00"/>
<rect x="412" y="603" width="3" height="39" fill="#00ff00"/>
<rect x="420" y="609" width="3" height="33" fill="#00ff00"/>
<rect x="428" y="621" width="3" height="21" fill="#00ff00"/>
<rect x="436" y="636" width="3" height="6" fill="#00ff00"/>
<rect x="444" y="641" width="3" height="10" fill="#00ff00"/>
<rect x="452" y="641" width="3" height="18" fill="#00ff00"/>
<rect x="460" y="641" width="3" height="23" fill="#00ff00"/>
<rect x="468" y="641" width="3" height="30" fill="#00ff00"/>
<rect x="476" y="641" width="3" height="30" fill="#00ff00"/>
<rect x="484" y="641" width="3" height="35" fill="#00ff00"/>
<rect x="492" y="641" width="3" height="37" fill="#00ff00"/>
<rect x="500" y="641" width="3" height="31" fill="#00ff00"/>
<rect x="508" y="641" width="3" height="29" fill="#00ff00"/>
<rect x="516" y="641" width="3" height="16" fill="#00ff00"/>
<rect x="524" y="641" width="3" height="8" fill="#00ff00"/>
<rect x="532" y="641" width="3" height="1" fill="#00ff00"/>
<rect x="540" y="635" width="3" height="7" fill="#00ff00"/>
<rect x="548" y="635" width="3" height="7" fill="#00ff00"/>
<rect x="556" y="636" width="3" height="6" fill="#00ff00"/>
<rect x="564" y="641" width="3" height="2" fill="#00ff00"/>
<rect x="572" y="641" width="3" height="7" fill="#00ff00"/>
<rect x="580" y="641" width="3" height="14" fill="#00ff00"/>
<rect x="588" y="641" width="3" height="19" fill="#00ff00"/>
<rect x="596" y="641" width="3" height="19" fill="#00ff00"/>
<rect x="604" y="641" width="3" height="19" fill="#00ff00"/>
<rect x="612" y="641" width="3" height="13" fill="#00ff00"/>
<rect x="620" y="641" width="3" height="10" fill="#00ff00"/>
<rect x="628" y="641" width="3" height="5" fill="#00ff00"/>
<rect x="636" y="641" width="3" height="6" fill="#00ff00"/>
<rect x="644" y="637" width="3" height="5" fill="#00ff00"/>
<rect x="652" y="628" width="3" height="14" fill="#00ff00"/>
<rect x="660" y="620" width="3" height="22" fill="#00ff00"/>
<rect x="668" y="615" width="3" height="27" fill="#00ff00"/>
<rect x="676" y="620" width="3" height="22" fill="#00ff00"/>
<rect x="684" y="623" width="3" height="19" fill="#00ff00"/>
<rect x="692" y="625" width="3" height="17" fill="#00ff00"/>
<rect x="700" y="628" width="3" height="14" fill="#00ff00"/>
<rect x="708" y="633" width="3" height="9" fill="#00ff00"/>
<rect x="716" y="634" width="3" height="8" fill="#00ff00"/>
<rect x="724" y="635" width="3" height="7" fill="#00ff00"/>
<rect x="732" y="641" width="3" height="2" fill="#00ff00"/>
<rect x="740" y="641" width="3" height="4" fill="#00ff00"/>
<rect x="748" y="641" width="3" height="7" fill="#00ff00"/>
<rect x="756" y="641" width="3" height="12" fill="#00ff00"/>
<rect x="764" y="641" width="3" height="17" fill="#00ff00"/>
<rect x="772" y="641" width="3" height="1" fill="#00ff00"/>
<rect x="780" y="627" width="3" height="15" fill="#00ff00"/>
<rect x="788" y="618" width="3" height="24" fill="#00ff00"/>
<rect x="796" y="612" width="3" height="30" fill="#00ff00"/>
<rect x="804" y="604" width="3" height="38" fill="#00ff00"/>
<rect x="812" y="602" width="3" height="40" fill="#00ff00"/>
<rect x="820" y="586" width="3" height="56" fill="#00ff00"/>
<rect x="828" y="571" width="3" height="71" fill="#00ff00"/>
<rect x="836" y="554" width="3" height="88" fill="#00ff00"/>
<rect x="844" y="544" width="3" height="98" fill="#00ff00"/>
<rect x="852" y="538" width="3" height="104" fill="#00ff00"/>
<rect x="860" y="537" width="3" height="105" fill="#00ff00"/>
<rect x="868" y="544" width="3" height="98" fill="#00ff00"/>
<rect x="876" y="550" width="3" height="92" fill="#00ff00"/>
<rect x="884" y="555" width="3" height="87" fill="#00ff00"/>
<rect x="892" y="555" width="3" height="87" fill="#00ff00"/>
<rect x="900" y="550" width="3" height="92" fill="#00ff00"/>
<rect x="908" y="549" width="3" height="93" fill="#00ff00"/>
<rect x="916" y="555" width="3" height="87" fill="#00ff00"/>
<rect x="924" y="559" width="3" height="83" fill="#00ff00"/>
<rect x="932" y="564" width="3" height="78" fill="#00ff00"/>
<rect x="940" y="572" width="3" height="70" fill="#00ff00"/>
<rect x="948" y="579" width="3" height="63" fill="#00ff00"/>
<rect x="956" y="586" width="3" height="56" fill="#00ff00"/>
<rect x="964" y="597" width="3" height="45" fill="#00ff00"/>
<rect x="972" y="602" width="3" height="40" fill="#00ff00"/>
<rect x="980" y="617" width="3" height="25" fill="#00ff00"/>
<rect x="988" y="636" width="3" height="6" fill="#00ff00"/>
<rect x="996" y="641" width="3" height="19" fill="#00ff00"/>
<rect x="1004" y="641" width="3" height="33" fill="#00ff00"/>
<rect x="1012" y="641" width="3" height="47" fill="#00ff00"/>
<rect x="1020" y="641" width="3" height="56" fill="#00ff00"/>
<rect x="1028" y="641" width="3" height="64" fill="#00ff00"/>
<rect x="1036" y="641" width="3" height="73" fill="#00ff00"/>
<rect x="1044" y="641" width="3" height="79" fill="#00ff00"/>
<rect x="1052" y="641" width="3" height="81" fill="#00ff00"/>
<rect x="1060" y="641" width="3" height="83" fill="#00ff00"/>
<rect x="1068" y="641" width="3" height="90" fill="#00ff00"/>
<rect x="1076" y="641" width="3" height="97" fill="#00ff00"/>
<rect x="1084" y="641" width="3" height="110" fill="#00ff00"/>
<rect x="1092" y="641" width="3" height="120" fill="#00ff00"/>
<rect x="1100" y="641" width="3" height="120" fill="#00ff00"/>
<rect x="1108" y="641" width="3" height="123" fill="#00ff00"/>
<rect x="1116" y="641" width="3" height="130" fill="#00ff00"/>
<rect x="1124" y="641" width="3" height="127" fill="#00ff00"/>
<rect x="1132" y="641" width="3" height="126" fill="#00ff00"/>
<rect x="1140" y="641" width="3" height="125" fill="#00ff00"/>
<rect x="1148" y="641" width="3" height="122" fill="#00ff00"/>
<rect x="1156" y="641" width="3" height="104" fill="#00ff00"/>
<rect x="1164" y="641" width="3" height="97" fill="#00ff00"/>
<rect x="1172" y="641" width="3" height="78" fill="#00ff00"/>
<rect x="1180" y="641" width="3" height="67" fill="#00ff00"/>
<rect x="1188" y="641" width="3" height="58" fill="#00ff00"/>
<rect x="1196" y="641" width="3" height="51" fill="#00ff00"/>
<polyline points="5.5,677.9 13.5,680.9 21.5,682.7 29.5,684.2 37.5,685.6 45.5,685.8 53.5,685.8 61.5,685.4 69.5,685.4 77.5,686.6 85.5,687.6 93.5,688.2 101.5,691.5 109.5,695.1 117.5,700.6 125.5,706.9 133.5,712.8 141.5,718.8 149.5,725.3 157.5,731.6 165.5,738.1 173.5,743.4 181.5,747.4 189.5,750.6 197.5,751.0 205.5,751.0 213.5,750.6 221.5,747.4 229.5,743.4 237.5,738.5 245.5,733.6 253.5,728.6 261.5,723.7 269.5,718.8 277.5,715.8 285.5,711.8 293.5,709.7 301.5,706.8 309.5,704.7 317.5,701.7 325.5,697.8 333.5,691.4 341.5,685.5 349.5,677.6 357.5,669.7 365.5,661.9 373.5,653.0 381.5,644.1 389.5,635.2 397.5,628.3 405.5,621.4 413.5,615.5 421.5,611.6 429.5,611.0 437.5,611.0 445.5,614.5 453.5,620.4 461.5,627.3 469.5,635.2 477.5,642.1 485.5,651.0 493.5,658.3 501.5,663.8 509.5,667.4 517.5,667.8 525.5,666.4 533.5,664.8 541.5,660.9 549.5,656.9 557.5,653.0 565.5,648.6 573.5,645.4 581.5,644.3 589.5,644.4 597.5,646.8 605.5,648.7 613.5,650.7 621.5,651.7 629.5,651.9 637.5,651.9 645.5,651.3 653.5,647.9 661.5,644.4 669.5,639.1 677.5,635.5 685.5,631.2 693.5,629.6 701.5,627.2 709.5,626.3 717.5,626.0 725.5,626.0 733.5,628.0 741.5,632.0 749.5,635.5 757.5,638.3 765.5,641.8 773.5,643.0 781.5,642.8 789.5,641.4 797.5,638.1 805.5,634.1 813.5,629.6 821.5,622.7 829.5,613.8 837.5,603.0 845.5,591.1 853.5,581.8 861.5,573.8 869.5,565.4 877.5,558.9 885.5,553.6 893.5,550.6 901.5,547.7 909.5,547.1 917.5,548.3 925.5,550.2 933.5,553.6 941.5,556.6 949.5,560.5 957.5,563.1 965.5,568.4 973.5,574.3 981.5,581.2 989.5,591.1 997.5,602.9 1005.5,615.5 1013.5,628.5 1021.5,641.0 1029.5,653.0 1037.5,665.5 1045.5,678.5 1053.5,690.2 1061.5,699.0 1069.5,707.9 1077.5,715.8 1085.5,722.3 1093.5,728.6 1101.5,734.5 1109.5,739.5 1117.5,745.4 1125.5,750.3 1133.5,755.2 1141.5,759.6 1149.5,762.7 1157.5,762.5 1165.5,759.2 1173.5,755.2 1181.5,749.3 1189.5,741.4 1197.5,733.0" fill="none" stroke="#ff0000" stroke-width="2" stroke-linejoin="round"/>
</g>
<rect x="4" y="4" width="1514" height="1" fill="#000"/>
<rect x="4" y="4" width="1" height="779" fill="#000"/>
<rect x="1517" y="4" width="1" height="779" fill="#000"/>
<rect x="4" y="522" width="1514" height="1" fill="#000"/>
<rect x="4" y="523" width="1514" height="1" fill="#fff"/>
<rect x="4" y="524" width="1514" height="1" fill="#000"/>
<rect x="4" y="782" width="1514" height="1" fill="#000"/>
<rect x="5" y="438" width="1514" height="4" fill="#0000cd"/>
<rect x="1518" y="32" width="2" height="1" fill="#000"/>
<rect x="1518" y="97" width="2" height="1" fill="#000"/>
<rect x="1518" y="162" width="2" height="1" fill="#000"/>
<rect x="1518" y="227" width="2" height="1" fill="#000"/>
<rect x="1518" y="292" width="2" height="1" fill="#000"/>
<rect x="1518" y="357" width="2" height="1" fill="#000"/>
<rect x="1518" y="422" width="2" height="1" fill="#000"/>
<rect x="1518" y="487" width="2" height="1" fill="#000"/>
<rect x="1518" y="526" width="1" height="1" fill="#000"/>
<rect x="1518" y="641" width="1" height="1" fill="#000"/>
<rect x="1518" y="781" width="1" height="1" fill="#000"/>
<rect x="5" y="783" width="1" height="3" fill="#000"/>
<rect x="133" y="783" width="1" height="3" fill="#000"/>
<rect x="261" y="783" width="1" height="3" fill="#000"/>
<rect x="389" y="783" width="1" height="3" fill="#000"/>
<rect x="517" y="783" width="1" height="3" fill="#000"/>
<rect x="645" y="783" width="1" height="3" fill="#000"/>
<rect x="773" y="783" width="1" height="3" fill="#000"/>
<rect x="901" y="783" width="1" height="3" fill="#000"/>
<rect x="1029" y="783" width="1" height="3" fill="#000"/>
<rect x="1157" y="783" width="1" height="3" fill="#000"/>
<rect x="1519" y="380" width="54" height="17" fill="#000"/>
<rect x="1519" y="434" width="54" height="17" fill="#0000cd"/>
</g>
<rect x="8" y="12" width="11" height="1" fill="#000" shape-rendering="crispEdges"/>
<rect x="9" y="13" width="9" height="1" fill="#000" shape-rendering="crispEdges"/>
<rect x="10" y="14" width="7" height="1" fill="#000" shape-rendering="crispEdges"/>
<rect x="11" y="15" width="5" height="1" fill="#000" shape-rendering="crispEdges"/>
<rect x="12" y="16" width="3" height="1" fill="#000" shape-rendering="crispEdges"/>
<rect x="13" y="17" width="1" height="1" fill="#000" shape-rendering="crispEdges"/>
<rect x="1206" y="5" width="15" height="1" fill="#505050" shape-rendering="crispEdges"/>
<rect x="1207" y="5" width="13" height="1" fill="#6e6e6e" shape-rendering="crispEdges"/>
<rect x="1207" y="6" width="13" height="1" fill="#505050" shape-rendering="crispEdges"/>
<rect x="1208" y="6" width="11" height="1" fill="#6e6e6e" shape-rendering="crispEdges"/>
<rect x="1208" y="7" width="11" height="1" fill="#505050" shape-rendering="crispEdges"/>
<rect x="1209" y="7" width="9" height="1" fill="#6e6e6e" shape-rendering="crispEdges"/>
<rect x="1209" y="8" width="9" height="1" fill="#505050" shape-rendering="crispEdges"/>
<rect x="1210" y="8" width="7" height="1" fill="#6e6e6e" shape-rendering="crispEdges"/>
<rect x="1210" y="9" width="7" height="1" fill="#505050" shape-rendering="crispEdges"/>
<rect x="1211" y="9" width="5" height="1" fill="#6e6e6e" shape-rendering="crispEdges"/>
<rect x="1211" y="10" width="5" height="1" fill="#505050" shape-rendering="crispEdges"/>
<rect x="1212" y="10" width="3" height="1" fill="#6e6e6e" shape-rendering="crispEdges"/>
<rect x="1212" y="11" width="3" height="1" fill="#505050" shape-rendering="crispEdges"/>
<rect x="1213" y="11" width="1" height="1" fill="#6e6e6e" shape-rendering="crispEdges"/>
<rect x="1213" y="12" width="1" height="1" fill="#505050" shape-rendering="crispEdges"/>
<line x1="1203" y1="441" x2="1249.5" y2="284" stroke="#ff0000" stroke-width="6" stroke-linecap="round"/>
<polygon points="1260.3,248.1 1238.7,278.6 1261.6,285.2" fill="#ff0000"/>
<text transform="translate(25.83,21) scale(0.870,1)" x="0" y="0">C</text>
<text transform="translate(35.68,21) scale(0.838,1)" x="0" y="0">H</text>
<text transform="translate(43.94,21) scale(0.880,1)" x="0" y="0" style="font-family:'Liberation Mono',monospace">I</text>
<text transform="translate(50.77,21) scale(0.851,1)" x="0" y="0">N</text>
<text transform="translate(58.90,21) scale(0.850,1)" x="0" y="0">A</text>
<text transform="translate(67.01,21) scale(0.900,1)" x="0" y="0">3</text>
<text transform="translate(74.59,21) scale(0.943,1)" x="0" y="0">0</text>
<text transform="translate(82.59,21) scale(0.943,1)" x="0" y="0">0</text>
<text transform="translate(90.45,21) scale(1.000,1)" x="0" y="0">-</text>
<text transform="translate(94.78,21) scale(1.000,1)" x="0" y="0">,</text>
<text transform="translate(98.11,21) scale(0.902,1)" x="0" y="0">H</text>
<text transform="translate(106.97,21) scale(1.053,1)" x="0" y="0">4</text>
<text x="122.8" y="21" textLength="44" lengthAdjust="spacingAndGlyphs" xml:space="preserve">3798.7</text>
<text x="170.8" y="21" textLength="44" lengthAdjust="spacingAndGlyphs" xml:space="preserve">3804.2</text>
<text x="218.8" y="21" textLength="44" lengthAdjust="spacingAndGlyphs" xml:space="preserve">3786.1</text>
<text x="266.8" y="21" textLength="44" lengthAdjust="spacingAndGlyphs" xml:space="preserve">3791.9</text>
<text transform="translate(8.66,542) scale(0.862,1)" x="0" y="0">M</text>
<text transform="translate(18.20,542) scale(0.925,1)" x="0" y="0">A</text>
<text transform="translate(26.74,542) scale(0.847,1)" x="0" y="0">C</text>
<text transform="translate(35.64,542) scale(0.973,1)" x="0" y="0">D</text>
<text transform="translate(45.77,542) scale(0.965,1)" x="0" y="0">(</text>
<text transform="translate(51.79,542) scale(0.930,1)" x="0" y="0">1</text>
<text transform="translate(58.94,542) scale(1.006,1)" x="0" y="0">2</text>
<text transform="translate(66.48,542) scale(1.000,1)" x="0" y="0">,</text>
<text transform="translate(70.44,542) scale(1.006,1)" x="0" y="0">2</text>
<text transform="translate(78.74,542) scale(1.006,1)" x="0" y="0">6</text>
<text transform="translate(86.83,542) scale(1.000,1)" x="0" y="0">,</text>
<text transform="translate(90.54,542) scale(1.006,1)" x="0" y="0">9</text>
<text transform="translate(99.60,542) scale(0.965,1)" x="0" y="0">)</text>
<text x="108.5" y="542" textLength="40" lengthAdjust="spacingAndGlyphs" xml:space="preserve">-21.27</text>
<text x="153" y="542" textLength="41" lengthAdjust="spacingAndGlyphs" xml:space="preserve">-39.16</text>
<text x="1523.7" y="38" textLength="44" lengthAdjust="spacingAndGlyphs" xml:space="preserve">4078.5</text>
<text x="1523.7" y="103" textLength="44" lengthAdjust="spacingAndGlyphs" xml:space="preserve">4026.0</text>
<text x="1523.7" y="168" textLength="44" lengthAdjust="spacingAndGlyphs" xml:space="preserve">3973.5</text>
<text x="1523.7" y="233" textLength="44" lengthAdjust="spacingAndGlyphs" xml:space="preserve">3921.5</text>
<text x="1523.7" y="298" textLength="44" lengthAdjust="spacingAndGlyphs" xml:space="preserve">3869.0</text>
<text x="1523.7" y="363" textLength="44" lengthAdjust="spacingAndGlyphs" xml:space="preserve">3816.5</text>
<text x="1523.7" y="428" textLength="44" lengthAdjust="spacingAndGlyphs" xml:space="preserve">3764.0</text>
<text x="1523.7" y="493" textLength="44" lengthAdjust="spacingAndGlyphs" xml:space="preserve">3711.5</text>
<text x="1523.7" y="394" textLength="44" lengthAdjust="spacingAndGlyphs" style="fill:#fff" xml:space="preserve">3791.9</text>
<text x="1523.7" y="448" textLength="44" lengthAdjust="spacingAndGlyphs" style="fill:#fff" xml:space="preserve">3750.0</text>
<text x="1520.5" y="540" textLength="36.5" lengthAdjust="spacingAndGlyphs" xml:space="preserve">49.72</text>
<text x="1520.5" y="647" textLength="28.5" lengthAdjust="spacingAndGlyphs" xml:space="preserve">0.00</text>
<text x="1520.5" y="778" textLength="41" lengthAdjust="spacingAndGlyphs" xml:space="preserve">-60.39</text>
<text x="4.3" y="800" textLength="15.7" lengthAdjust="spacingAndGlyphs" xml:space="preserve">16</text>
<text x="24.3" y="800" textLength="24.7" lengthAdjust="spacingAndGlyphs" xml:space="preserve">May</text>
<text x="53.3" y="800" textLength="31.7" lengthAdjust="spacingAndGlyphs" xml:space="preserve">2023</text>
<text x="132.3" y="800" textLength="15.7" lengthAdjust="spacingAndGlyphs" xml:space="preserve">26</text>
<text x="152.3" y="800" textLength="24.7" lengthAdjust="spacingAndGlyphs" xml:space="preserve">May</text>
<text x="181.3" y="800" textLength="36.7" lengthAdjust="spacingAndGlyphs" xml:space="preserve">01:30</text>
<text x="260.3" y="800" textLength="7.7" lengthAdjust="spacingAndGlyphs" xml:space="preserve">7</text>
<text x="272.3" y="800" textLength="21.7" lengthAdjust="spacingAndGlyphs" xml:space="preserve">Jun</text>
<text x="298.3" y="800" textLength="36.7" lengthAdjust="spacingAndGlyphs" xml:space="preserve">01:30</text>
<text x="388.3" y="800" textLength="15.7" lengthAdjust="spacingAndGlyphs" xml:space="preserve">19</text>
<text x="408.3" y="800" textLength="21.7" lengthAdjust="spacingAndGlyphs" xml:space="preserve">Jun</text>
<text x="434.3" y="800" textLength="36.7" lengthAdjust="spacingAndGlyphs" xml:space="preserve">01:30</text>
<text x="516.3" y="800" textLength="7.7" lengthAdjust="spacingAndGlyphs" xml:space="preserve">3</text>
<text x="528.3" y="800" textLength="16.7" lengthAdjust="spacingAndGlyphs" xml:space="preserve">Jul</text>
<text x="549.3" y="800" textLength="36.7" lengthAdjust="spacingAndGlyphs" xml:space="preserve">01:30</text>
<text x="644.3" y="800" textLength="15.7" lengthAdjust="spacingAndGlyphs" xml:space="preserve">13</text>
<text x="664.3" y="800" textLength="16.7" lengthAdjust="spacingAndGlyphs" xml:space="preserve">Jul</text>
<text x="685.3" y="800" textLength="36.7" lengthAdjust="spacingAndGlyphs" xml:space="preserve">01:30</text>
<text x="772.3" y="800" textLength="15.7" lengthAdjust="spacingAndGlyphs" xml:space="preserve">25</text>
<text x="792.3" y="800" textLength="16.7" lengthAdjust="spacingAndGlyphs" xml:space="preserve">Jul</text>
<text x="813.3" y="800" textLength="36.7" lengthAdjust="spacingAndGlyphs" xml:space="preserve">01:30</text>
<text x="900.3" y="800" textLength="7.7" lengthAdjust="spacingAndGlyphs" xml:space="preserve">4</text>
<text x="912.3" y="800" textLength="23.7" lengthAdjust="spacingAndGlyphs" xml:space="preserve">Aug</text>
<text x="940.3" y="800" textLength="36.7" lengthAdjust="spacingAndGlyphs" xml:space="preserve">01:30</text>
<text x="1028.3" y="800" textLength="15.7" lengthAdjust="spacingAndGlyphs" xml:space="preserve">16</text>
<text x="1048.3" y="800" textLength="23.7" lengthAdjust="spacingAndGlyphs" xml:space="preserve">Aug</text>
<text x="1076.3" y="800" textLength="36.7" lengthAdjust="spacingAndGlyphs" xml:space="preserve">01:30</text>
<text x="1156.3" y="800" textLength="15.7" lengthAdjust="spacingAndGlyphs" xml:space="preserve">28</text>
<text x="1176.3" y="800" textLength="23.7" lengthAdjust="spacingAndGlyphs" xml:space="preserve">Aug</text>
<text x="1204.3" y="800" textLength="36.7" lengthAdjust="spacingAndGlyphs" xml:space="preserve">01:30</text>
</svg>
</body></html>
